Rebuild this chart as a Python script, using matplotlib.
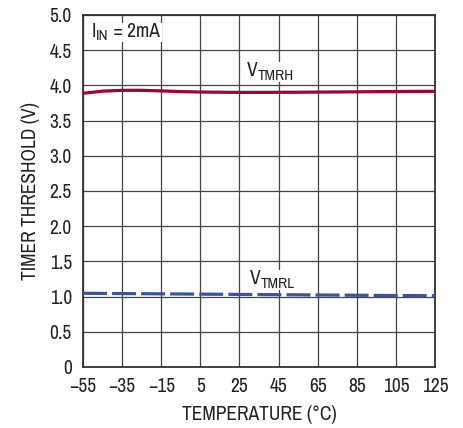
import matplotlib
matplotlib.use("Agg")
import matplotlib.pyplot as plt
from matplotlib import font_manager
from matplotlib.patches import Rectangle
from matplotlib.transforms import Bbox
import numpy as np

# Prefer a condensed sans face when one is available
narrow = sorted({f.name for f in font_manager.fontManager.ttflist
                 if 'Narrow' in f.name or 'Condensed' in f.name})
plt.rcParams['font.family'] = narrow[:1] + ['Liberation Sans', 'DejaVu Sans']

# Timer threshold voltage versus temperature
temp = [-55, -45, -35, -25, -15, -5, 5, 15, 25, 35, 45, 55, 65, 75, 85, 95, 105, 115, 125]
v_tmrh = [3.888, 3.918, 3.930, 3.930, 3.922, 3.912, 3.906, 3.903, 3.901, 3.901, 3.902,
          3.903, 3.905, 3.907, 3.909, 3.911, 3.913, 3.915, 3.916]
v_tmrl = [1.047, 1.045, 1.043, 1.041, 1.039, 1.037, 1.035, 1.033, 1.031, 1.029, 1.027,
          1.025, 1.023, 1.021, 1.019, 1.017, 1.015, 1.014, 1.013]

x_ticks = [-55, -35, -15, 5, 25, 45, 65, 85, 105, 125]
x_labels = ['\u221255', '\u221235', '\u221215', '5', '25', '45', '65', '85', '105', '125']
y_ticks = [0, 0.5, 1.0, 1.5, 2.0, 2.5, 3.0, 3.5, 4.0, 4.5, 5.0]
y_labels = ['0', '0.5', '1.0', '1.5', '2.0', '2.5', '3.0', '3.5', '4.0', '4.5', '5.0']

FS = 14
SUB = 11
TXT = '#222222'

fig = plt.figure(figsize=(4.63, 4.28), dpi=100)
ax = fig.add_axes([83/463, 1 - 367/428, (435-83)/463, (367-15)/428])

ax.set_xlim(-55, 125)
ax.set_ylim(0, 5)
ax.set_xticks(x_ticks)
ax.set_xticklabels(x_labels)
ax.set_yticks(y_ticks)
ax.set_yticklabels(y_labels)
ax.tick_params(length=0, labelsize=FS, colors=TXT)
ax.tick_params(axis='x', pad=7)
ax.tick_params(axis='y', pad=8)
ax.grid(True, color='#444444', linewidth=0.9)
ax.set_axisbelow(True)
for s in ax.spines.values():
    s.set_color('#333333')
    s.set_linewidth(1.3)

ax.plot(temp, v_tmrh, color='#9e0030', linewidth=2.3, solid_capstyle='butt', zorder=3)
ax.plot(temp, v_tmrl, color='#3a52a3', linewidth=2.3, dashes=(7.5, 1.6), zorder=3)

labels = []


def sub_label(x, y, main, sub, tail=None):
    """Draw main text with a large subscript (and optional trailing text)."""
    t = ax.text(x, y, main, fontsize=FS, ha='left', va='center', color=TXT, zorder=2)
    s = ax.annotate(sub, xy=(1, 0), xycoords=t, xytext=(0, -2),
                    textcoords='offset points', fontsize=SUB, ha='left',
                    va='bottom', color=TXT, zorder=2)
    parts = [t, s]
    if tail:
        parts.append(ax.annotate(tail, xy=(1, 0), xycoords=s, xytext=(0, 2),
                                 textcoords='offset points', fontsize=FS, ha='left',
                                 va='bottom', color=TXT, zorder=2))
    labels.append(parts)


sub_label(29.0, 4.21, 'V', 'TMRH')
sub_label(30.5, 1.26, 'V', 'TMRL')
sub_label(-50.5, 4.77, 'I', 'IN', ' = 2mA')

ax.set_xlabel('TEMPERATURE (\u00b0C)', fontsize=FS, color=TXT, labelpad=7)
ax.set_ylabel('TIMER THRESHOLD (V)', fontsize=FS, color=TXT, labelpad=7)

# White backing behind each label so the grid does not run through it
fig.canvas.draw()
renderer = fig.canvas.get_renderer()
inv = ax.transData.inverted()
for parts in labels:
    bb = Bbox.union([p.get_window_extent(renderer) for p in parts])
    bb = Bbox.from_extents(bb.x0 - 2, bb.y0 + 1, bb.x1 + 2, bb.y1 - 1)
    (x0, y0), (x1, y1) = inv.transform([[bb.x0, bb.y0], [bb.x1, bb.y1]])
    ax.add_patch(Rectangle((x0, y0), x1 - x0, y1 - y0, facecolor='white',
                           edgecolor='none', zorder=1.5))

fig.savefig('out.png', dpi=100)
